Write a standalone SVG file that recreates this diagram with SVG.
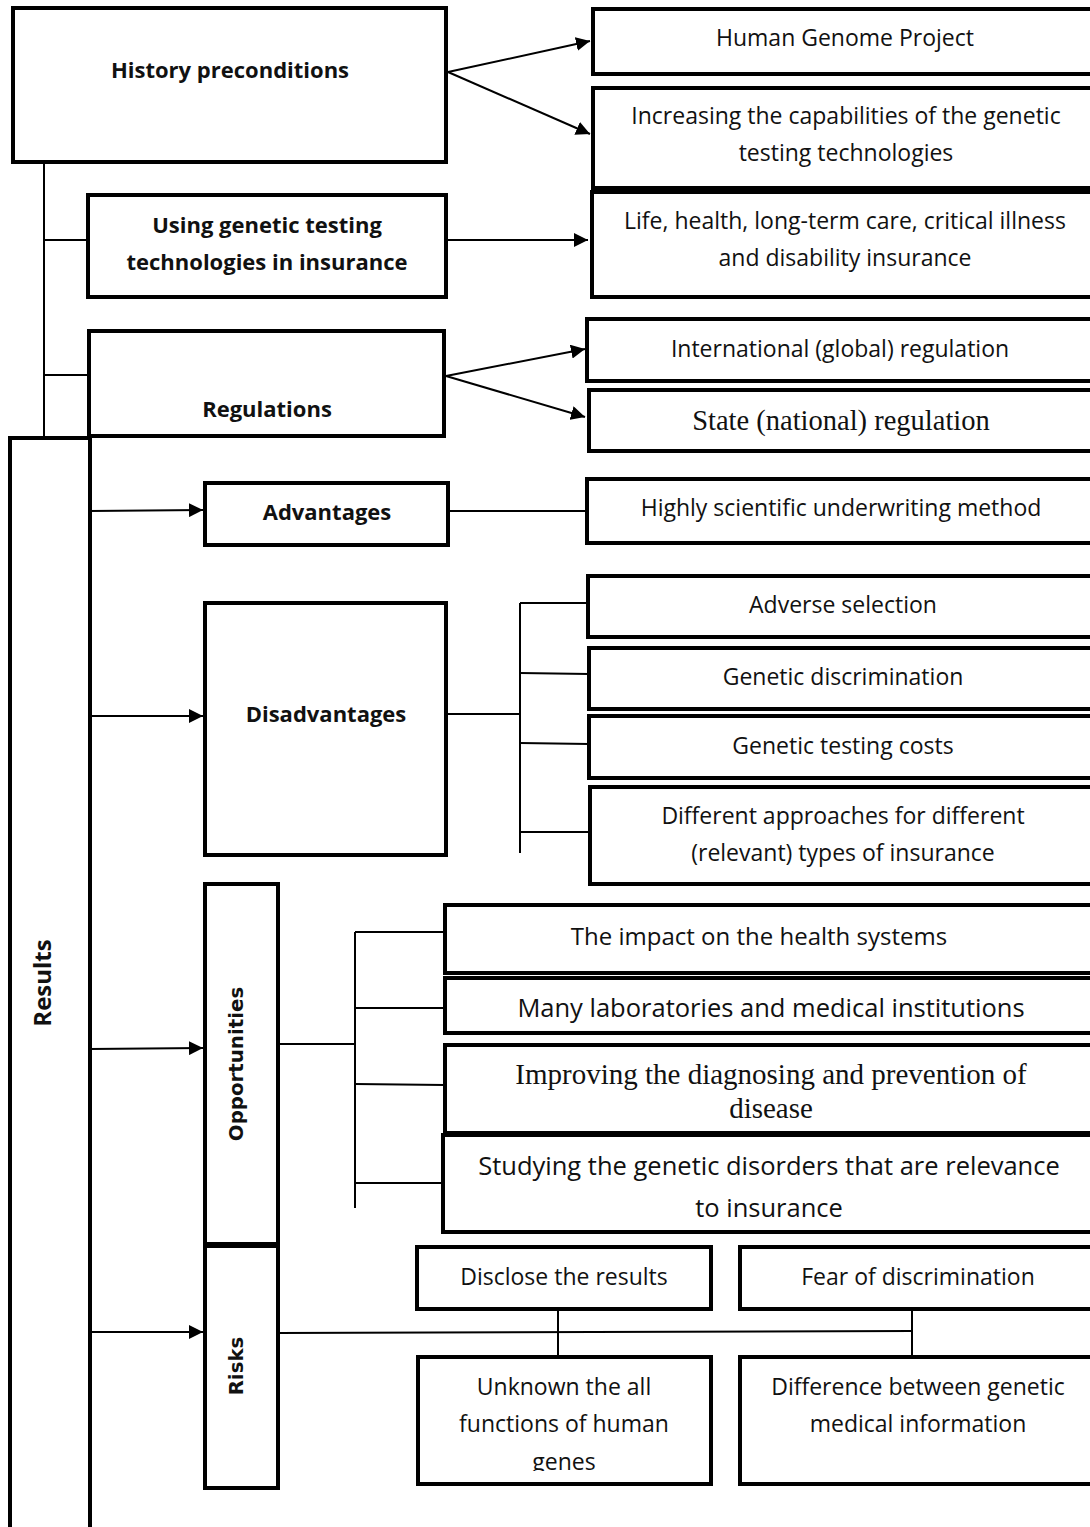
<svg xmlns="http://www.w3.org/2000/svg" width="1090" height="1527" viewBox="0 0 1090 1527">
<style>
.box{fill:#fff;stroke:#000;stroke-width:4}
.ln{fill:none;stroke:#000;stroke-width:2}
.t{font-family:"Open Sans","Liberation Sans",sans-serif;font-size:23px;fill:#111;text-anchor:middle}
.tb{font-family:"Open Sans","Liberation Sans",sans-serif;font-size:22px;font-weight:bold;fill:#111;text-anchor:middle}
.tv{font-family:"DejaVu Sans",sans-serif;font-size:19.8px;font-weight:bold;fill:#111;text-anchor:middle}
.ts{font-family:"Liberation Serif",serif;font-size:28.5px;fill:#111;text-anchor:middle}
.tl{font-family:"Open Sans","Liberation Sans",sans-serif;font-size:25.5px;fill:#111;text-anchor:middle}
</style>
<defs>
<marker id="ah" viewBox="0 0 10 10" refX="10" refY="5" markerWidth="7" markerHeight="7" markerUnits="strokeWidth" orient="auto">
<path d="M0,0 L10,5 L0,10 z" fill="#000"/>
</marker>
<clipPath id="clipGenes"><rect x="418" y="1357" width="293" height="114"/></clipPath>
</defs>

<g id="connectors">
<line class="ln" x1="44" y1="150" x2="44" y2="515"/>
<line class="ln" x1="44" y1="240" x2="88" y2="240"/>
<line class="ln" x1="44" y1="375" x2="89" y2="375"/>
<line class="ln" x1="448" y1="72" x2="590" y2="41" marker-end="url(#ah)"/>
<line class="ln" x1="448" y1="72" x2="590" y2="134" marker-end="url(#ah)"/>
<line class="ln" x1="446" y1="240" x2="588" y2="240" marker-end="url(#ah)"/>
<line class="ln" x1="446" y1="376" x2="585" y2="349" marker-end="url(#ah)"/>
<line class="ln" x1="446" y1="376" x2="585" y2="417" marker-end="url(#ah)"/>
<line class="ln" x1="90" y1="511" x2="203" y2="510" marker-end="url(#ah)"/>
<line class="ln" x1="448" y1="511" x2="587" y2="511"/>
<line class="ln" x1="90" y1="716" x2="203" y2="716" marker-end="url(#ah)"/>
<line class="ln" x1="446" y1="714" x2="520" y2="714"/>
<line class="ln" x1="520" y1="603" x2="520" y2="853"/>
<line class="ln" x1="520" y1="603" x2="588" y2="603"/>
<line class="ln" x1="520" y1="673" x2="589" y2="674"/>
<line class="ln" x1="520" y1="743" x2="589" y2="744"/>
<line class="ln" x1="520" y1="832" x2="590" y2="832"/>
<line class="ln" x1="90" y1="1049" x2="203" y2="1048" marker-end="url(#ah)"/>
<line class="ln" x1="278" y1="1044" x2="355" y2="1044"/>
<line class="ln" x1="355" y1="932" x2="355" y2="1208"/>
<line class="ln" x1="355" y1="932" x2="445" y2="932"/>
<line class="ln" x1="355" y1="1008" x2="445" y2="1008"/>
<line class="ln" x1="355" y1="1084" x2="445" y2="1085"/>
<line class="ln" x1="355" y1="1183" x2="443" y2="1183"/>
<line class="ln" x1="90" y1="1332" x2="203" y2="1332" marker-end="url(#ah)"/>
<line class="ln" x1="278" y1="1333" x2="912" y2="1331"/>
<line class="ln" x1="558" y1="1302" x2="558" y2="1362"/>
<line class="ln" x1="912" y1="1302" x2="912" y2="1362"/>
</g>

<g id="n-history"><rect class="box" x="13" y="8" width="433" height="154"/><text class="tb" x="230" y="78">History preconditions</text></g>
<g id="n-using"><rect class="box" x="88" y="195" width="358" height="102"/><text class="tb" x="267" y="233">Using genetic testing</text><text class="tb" x="267" y="270">technologies in insurance</text></g>
<g id="n-regulations"><rect class="box" x="89" y="331" width="355" height="105"/><text class="tb" x="267" y="417">Regulations</text></g>
<g id="n-results"><rect class="box" x="10" y="438" width="80" height="1100"/><text class="tb" transform="translate(51,983) rotate(-90)" style="font-size:24px">Results</text></g>
<g id="n-advantages"><rect class="box" x="205" y="483" width="243" height="62"/><text class="tb" x="327" y="520">Advantages</text></g>
<g id="n-disadvantages"><rect class="box" x="205" y="603" width="241" height="252"/><text class="tb" x="326" y="722">Disadvantages</text></g>
<g id="n-opportunities"><rect class="box" x="205" y="884" width="73" height="360"/><text class="tv" transform="translate(243,1064) rotate(-90)">Opportunities</text></g>
<g id="n-risks"><rect class="box" x="205" y="1246" width="73" height="242"/><text class="tv" transform="translate(243,1366) rotate(-90)">Risks</text></g>

<g id="n-hgp"><rect class="box" x="593" y="9" width="510" height="65"/><text class="t" x="845" y="46">Human Genome Project</text></g>
<g id="n-increasing"><rect class="box" x="593" y="88" width="510" height="100"/><text class="t" x="846" y="124">Increasing the capabilities of the genetic</text><text class="t" x="846" y="161">testing technologies</text></g>
<g id="n-life"><rect class="box" x="592" y="192" width="510" height="105"/><text class="t" x="845" y="229">Life, health, long-term care, critical illness</text><text class="t" x="845" y="266">and disability insurance</text></g>
<g id="n-international"><rect class="box" x="587" y="319" width="515" height="62"/><text class="t" x="840" y="357">International (global) regulation</text></g>
<g id="n-state"><rect class="box" x="589" y="390" width="515" height="61"/><text class="ts" x="841" y="430">State (national) regulation</text></g>
<g id="n-highly"><rect class="box" x="587" y="479" width="515" height="64"/><text class="t" x="841" y="516">Highly scientific underwriting method</text></g>
<g id="n-adverse"><rect class="box" x="588" y="576" width="515" height="61"/><text class="t" x="843" y="613">Adverse selection</text></g>
<g id="n-discrimination"><rect class="box" x="589" y="648" width="515" height="61"/><text class="t" x="843" y="685">Genetic discrimination</text></g>
<g id="n-costs"><rect class="box" x="589" y="716" width="515" height="62"/><text class="t" x="843" y="754">Genetic testing costs</text></g>
<g id="n-approaches"><rect class="box" x="590" y="787" width="515" height="97"/><text class="t" x="843" y="824">Different approaches for different</text><text class="t" x="843" y="861">(relevant) types of insurance</text></g>
<g id="n-impact"><rect class="box" x="445" y="905" width="660" height="68"/><text class="tl" x="759" y="945" style="font-size:24px">The impact on the health systems</text></g>
<g id="n-labs"><rect class="box" x="445" y="978" width="660" height="55"/><text class="tl" x="771" y="1017">Many laboratories and medical institutions</text></g>
<g id="n-improving"><rect class="box" x="445" y="1045" width="660" height="88"/><text class="ts" x="771" y="1084" style="font-size:29px">Improving the diagnosing and prevention of</text><text class="ts" x="771" y="1118" style="font-size:29px">disease</text></g>
<g id="n-studying"><rect class="box" x="443" y="1135" width="662" height="97"/><text class="tl" x="769" y="1175">Studying the genetic disorders that are relevance</text><text class="tl" x="769" y="1217">to insurance</text></g>
<g id="n-disclose"><rect class="box" x="417" y="1247" width="294" height="62"/><text class="t" x="564" y="1285">Disclose the results</text></g>
<g id="n-fear"><rect class="box" x="740" y="1247" width="365" height="62"/><text class="t" x="918" y="1285">Fear of discrimination</text></g>
<g id="n-unknown"><rect class="box" x="418" y="1357" width="293" height="127"/><text class="t" x="564" y="1395">Unknown the all</text><text class="t" x="564" y="1432">functions of human</text><text class="t" x="564" y="1470" clip-path="url(#clipGenes)">genes</text></g>
<g id="n-difference"><rect class="box" x="740" y="1357" width="365" height="127"/><text class="t" x="918" y="1395">Difference between genetic</text><text class="t" x="918" y="1432">medical information</text></g>
</svg>
